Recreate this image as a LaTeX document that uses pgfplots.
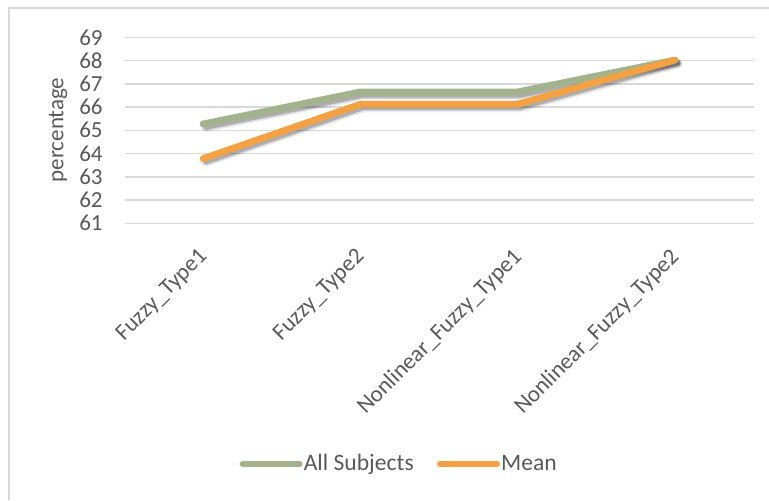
\documentclass[border=0pt]{standalone}
\usepackage{pgfplots}
\usepackage{pgfplotstable}
\pgfplotsset{compat=1.18}
\usepackage{fontspec}
\setmainfont{Carlito}

\definecolor{txtgray}{HTML}{595959}
\definecolor{gridgray}{HTML}{D9D9D9}
\definecolor{frame}{HTML}{D9D9D9}
\definecolor{sgreen}{HTML}{A2B38D}
\definecolor{sorange}{HTML}{F3A143}

\pgfplotstableread{
x  all    mean
0  65.27  63.78
1  66.65  66.12
2  66.65  66.12
3  68.02  68.02
}\scores

% soft drop shadow under a series
\pgfplotsset{
  shadow/.style={forget plot, draw=black, line cap=round, line join=round,
                 xshift=1.4pt, yshift=-1.6pt},
}

\begin{document}
\begin{tikzpicture}
\path[use as bounding box] (0,0) rectangle (384.5pt,250pt);
% chart area frame
\draw[frame, line width=0.75pt] (4.5pt,0pt) -- (4.5pt,246pt) -- (384.5pt,246pt);

\begin{axis}[
  at={(62.25pt,138.35pt)}, anchor=south west,
  scale only axis, width=314.5pt, height=93pt,
  xmin=-0.5, xmax=3.5, ymin=61, ymax=69,
  ytick={61,...,69},
  xtick={0,1,2,3},
  xticklabels={Fuzzy\_Type1,Fuzzy\_Type2,Nonlinear\_Fuzzy\_Type1,Nonlinear\_Fuzzy\_Type2},
  axis line style={draw=none},
  major tick length=0pt,
  ymajorgrids, grid style={gridgray, line width=0.75pt},
  /pgf/number format/assume math mode=true,
  tick label style={font=\fontsize{11.5}{13}\selectfont, text=txtgray},
  yticklabel style={anchor=east, inner sep=0pt, xshift=-10.75pt},
  xticklabel style={anchor=east, inner sep=0pt, xshift=0.5pt, yshift=-15pt, rotate=45},
  legend columns=2,
  legend style={at={(axis description cs:0.183,-1.294)}, anchor=west,
    draw=none, fill=none, inner sep=0pt, outer sep=0pt, column sep=0pt,
    nodes={inner sep=0.6pt, text=txtgray, font=\fontsize{11.8}{13}\selectfont},
    /tikz/every even column/.append style={column sep=11pt}},
  legend image code/.code={\draw[#1, line width=3pt, line cap=round] (0pt,0pt) -- (28.5pt,0pt);},
  clip=false,
]
% All Subjects
\addplot[shadow, line width=5pt, opacity=0.06] table[x=x, y=all] {\scores};
\addplot[shadow, line width=3.6pt, opacity=0.12] table[x=x, y=all] {\scores};
\addplot[shadow, line width=2.4pt, opacity=0.18] table[x=x, y=all] {\scores};
\addplot[sgreen, line width=3.4pt, line cap=round, line join=round] table[x=x, y=all] {\scores};
\addlegendentry{All Subjects}
% Mean
\addplot[shadow, line width=5pt, opacity=0.06] table[x=x, y=mean] {\scores};
\addplot[shadow, line width=3.6pt, opacity=0.12] table[x=x, y=mean] {\scores};
\addplot[shadow, line width=2.4pt, opacity=0.18] table[x=x, y=mean] {\scores};
\addplot[sorange, line width=3.4pt, line cap=round, line join=round] table[x=x, y=mean] {\scores};
\addlegendentry{Mean}
\end{axis}

\node[rotate=90, text=txtgray, font=\fontsize{11.5}{13}\selectfont] at (29pt,185pt) {percentage};
\end{tikzpicture}
\end{document}
